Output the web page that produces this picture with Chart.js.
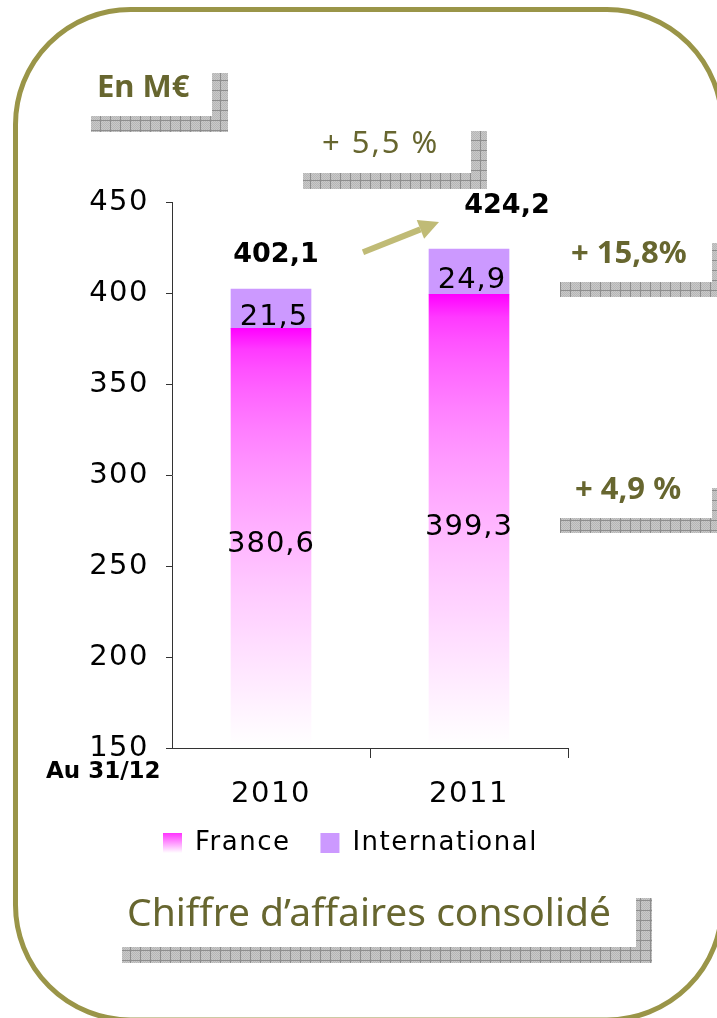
<!DOCTYPE html>
<html>
<head>
<meta charset="utf-8">
<script src="https://cdn.jsdelivr.net/npm/chart.js@4/dist/chart.umd.min.js"></script>
<style>
html,body{margin:0;padding:0;background:#ffffff;overflow:hidden}
canvas{display:block}
</style>
</head>
<body>
<canvas id="c" width="717" height="1018"></canvas>
<script>
// ---- data ----
const categories = ['2010', '2011'];
const seriesNames = ['France', 'International'];
const franceValues = [380.6, 399.3];
const internationalValues = [21.5, 24.9];
const totalValues = [402.1, 424.2];
const yTicks = [150, 200, 250, 300, 350, 400, 450];
const growthLabels = ['+ 5,5 %', '+ 15,8%', '+ 4,9 %'];
const unitLabel = 'En M€';
const dateLabel = 'Au 31/12';
const chartTitle = 'Chiffre d’affaires consolidé';

// ---- styles ----
const OLIVE_TEXT = '#67662f';
const OLIVE_BORDER = '#9a9548';
const ARROW_COLOR = '#c0bb76';
const INTL_COLOR = '#cc99ff';
const AXIS_COLOR = '#333333';
const DEJAVU = "'DejaVu Sans', sans-serif";
const NOTO = "'Noto Sans', sans-serif";
const LEGEND_START_X = 163;
const LEGEND_CENTER_Y = 843;

const fmt = v => v.toFixed(1).replace('.', ',');

function franceGradient(ctx) {
  const chart = ctx.chart;
  const area = chart.chartArea;
  if (!area || ctx.type !== 'data') return '#ff55ff';
  const top = chart.scales.y.getPixelForValue(ctx.raw);
  const g = chart.ctx.createLinearGradient(0, top, 0, area.bottom);
  for (let i = 0; i <= 20; i++) {
    const t = i / 20;
    const c = Math.round(255 * Math.sqrt(t));
    g.addColorStop(t, 'rgb(255,' + c + ',255)');
  }
  return g;
}

function makePattern(ctx) {
  const p = document.createElement('canvas');
  p.width = 10; p.height = 10;
  const g = p.getContext('2d');
  g.fillStyle = '#c9c9c9';
  g.fillRect(0, 0, 10, 10);
  g.fillStyle = '#b6b6b6';
  for (let yy = 0; yy < 10; yy++) for (let xx = 0; xx < 10; xx++) if ((xx + yy) % 2 === 0) g.fillRect(xx, yy, 1, 1);
  g.fillStyle = '#8e8e8e';
  g.fillRect(0, 0, 10, 1);
  g.fillRect(0, 0, 1, 10);
  return ctx.createPattern(p, 'repeat');
}

// decorative brackets: horizontal bar [x0,x1] x [y1-th, y1], vertical bar [x1-16, x1] x [vTop, y1]
const brackets = [
  {x0: 91, x1: 228, y1: 132, th: 16, vTop: 73},
  {x0: 303, x1: 487, y1: 189, th: 16, vTop: 131},
  {x0: 560, x1: 728, y1: 297, th: 15, vTop: 243},
  {x0: 560, x1: 728, y1: 533, th: 15, vTop: 488},
  {x0: 122, x1: 652, y1: 963, th: 16, vTop: 898}
];

function roundRect(c, l, t, r, b, rad) {
  c.beginPath();
  c.moveTo(l + rad, t);
  c.lineTo(r - rad, t);
  c.arcTo(r, t, r, t + rad, rad);
  c.lineTo(r, b - rad);
  c.arcTo(r, b, r - rad, b, rad);
  c.lineTo(l + rad, b);
  c.arcTo(l, b, l, b - rad, rad);
  c.lineTo(l, t + rad);
  c.arcTo(l, t, l + rad, t, rad);
  c.closePath();
}

function spacing(c, px) {
  if ('letterSpacing' in c) c.letterSpacing = px + 'px';
}

const deco = {
  id: 'deco',
  afterUpdate(chart) {
    // move the library legend to its place under the axis
    const lg = chart.legend;
    if (!lg || !lg.legendHitBoxes || !lg.legendHitBoxes.length) return;
    const pad = lg.options.labels.padding;
    const fontSize = lg.options.labels.font.size;
    const dx = LEGEND_START_X - (lg.left + pad);
    const dy = LEGEND_CENTER_Y - (lg.top + pad + fontSize / 2);
    lg.left += dx; lg.right += dx; lg.top += dy; lg.bottom += dy;
    lg.legendHitBoxes.forEach(h => { h.left += dx; h.top += dy; });
  },
  beforeDraw(chart) {
    const c = chart.ctx;
    c.save();
    c.fillStyle = '#ffffff';
    c.fillRect(0, 0, chart.width, chart.height);
    c.restore();
    spacing(c, 1.5); // spaced axis and legend text, as in the original
  },
  beforeDatasetsDraw(chart) {
    spacing(chart.ctx, 0);
  },
  afterDraw(chart) {
    const c = chart.ctx;
    const xs = chart.scales.x, ys = chart.scales.y;
    c.save();
    spacing(c, 0);

    // brackets
    c.fillStyle = makePattern(c);
    brackets.forEach(b => {
      c.fillRect(b.x0, b.y1 - b.th, b.x1 - b.x0, b.th);
      c.fillRect(b.x1 - 16, b.vTop, 16, b.y1 - b.vTop);
    });

    // decorative texts
    c.textBaseline = 'alphabetic';
    c.textAlign = 'left';
    c.fillStyle = OLIVE_TEXT;
    c.font = 'bold 31px ' + NOTO;
    c.fillText(unitLabel, 97, 97);
    c.font = '31px ' + NOTO;
    spacing(c, 2);
    c.fillText(growthLabels[0], 322, 153);
    spacing(c, 0);
    c.font = 'bold 31px ' + NOTO;
    c.fillText(growthLabels[1], 571, 263);
    c.fillText(growthLabels[2], 575, 499);
    c.font = '39px ' + NOTO;
    c.fillText(chartTitle, 127, 926);

    c.fillStyle = '#000000';
    c.font = 'bold 23px ' + DEJAVU;
    c.fillText(dateLabel, 46, 778);

    // value labels
    c.textAlign = 'center';
    const totalOffsets = [[5, -27], [38, -36]];
    categories.forEach((cat, i) => {
      const px = xs.getPixelForValue(i);
      const yF = ys.getPixelForValue(franceValues[i]);
      const yT = ys.getPixelForValue(totalValues[i]);
      const yB = ys.bottom;
      c.font = '29px ' + DEJAVU;
      spacing(c, 1);
      c.fillText(fmt(franceValues[i]), px, (yF + yB) / 2 + 14);
      c.fillText(fmt(internationalValues[i]), px + 3, (yF + yT) / 2 + 16);
      spacing(c, 0);
      c.font = 'bold 27px ' + DEJAVU;
      c.fillText(fmt(totalValues[i]), px + totalOffsets[i][0], yT + totalOffsets[i][1]);
    });

    // arrow between totals
    const tx = xs.getPixelForValue(0) + 92, ty = ys.getPixelForValue(totalValues[0]) - 37;
    const hx = xs.getPixelForValue(1) - 30, hy = ys.getPixelForValue(totalValues[1]) - 27;
    const dx = hx - tx, dy = hy - ty, len = Math.hypot(dx, dy);
    const ux = dx / len, uy = dy / len, nx = -uy, ny = ux;
    const headL = 20, headW = 10;
    c.strokeStyle = ARROW_COLOR;
    c.fillStyle = ARROW_COLOR;
    c.lineWidth = 6;
    c.beginPath();
    c.moveTo(tx, ty);
    c.lineTo(hx - ux * headL, hy - uy * headL);
    c.stroke();
    c.beginPath();
    c.moveTo(hx, hy);
    c.lineTo(hx - ux * headL + nx * headW, hy - uy * headL + ny * headW);
    c.lineTo(hx - ux * headL - nx * headW, hy - uy * headL - ny * headW);
    c.closePath();
    c.fill();

    // legend France box with gradient
    const lg = chart.legend;
    if (lg && lg.legendHitBoxes && lg.legendHitBoxes[0]) {
      const hb = lg.legendHitBoxes[0];
      const by = hb.top + Math.max((26 - 20) / 2, 0);
      c.fillStyle = '#ffffff';
      c.fillRect(hb.left, by, 19, 20);
      const g = c.createLinearGradient(0, by, 0, by + 20);
      g.addColorStop(0, '#ff33ff');
      g.addColorStop(1, '#ffffff');
      c.fillStyle = g;
      c.fillRect(hb.left, by, 19, 20);
    }

    // rounded frame
    c.strokeStyle = OLIVE_BORDER;
    c.lineWidth = 5;
    roundRect(c, 15.5, 9.5, 722, 1020, 115);
    c.stroke();

    c.restore();
  }
};

Chart.defaults.color = '#000000';
Chart.defaults.font.family = DEJAVU;

new Chart(document.getElementById('c'), {
  type: 'bar',
  data: {
    labels: categories,
    datasets: [
      {label: seriesNames[0], data: franceValues, backgroundColor: franceGradient, borderWidth: 0, barThickness: 80},
      {label: seriesNames[1], data: internationalValues, backgroundColor: INTL_COLOR, borderWidth: 0, barThickness: 80}
    ]
  },
  options: {
    responsive: false,
    devicePixelRatio: 1,
    animation: false,
    events: [],
    layout: {padding: {top: 202, left: 40, right: 149, bottom: 139}},
    scales: {
      x: {
        stacked: true,
        afterFit: s => { s.height = 65; },
        grid: {
          drawOnChartArea: false, tickLength: 10, offset: true, color: AXIS_COLOR,
          tickColor: ctx => (ctx.index === 0 ? 'rgba(0,0,0,0)' : AXIS_COLOR)
        },
        border: {display: true, color: AXIS_COLOR, width: 1},
        ticks: {font: {size: 29, family: DEJAVU}, color: '#000000', padding: 19}
      },
      y: {
        stacked: true,
        min: 150,
        max: 450,
        afterFit: s => { s.width = 132; },
        afterBuildTicks: s => { s.ticks = yTicks.map(v => ({value: v})); },
        grid: {drawOnChartArea: false, tickLength: 6, color: AXIS_COLOR},
        border: {display: true, color: AXIS_COLOR, width: 1},
        ticks: {font: {size: 29, family: DEJAVU}, color: '#000000', padding: 17, callback: v => String(v)}
      }
    },
    plugins: {
      legend: {
        position: 'bottom',
        align: 'start',
        labels: {font: {size: 26, family: DEJAVU}, color: '#000000', boxWidth: 19, boxHeight: 20, padding: 30}
      },
      tooltip: {enabled: false},
      title: {display: false}
    }
  },
  plugins: [deco]
});
</script>
</body>
</html>
